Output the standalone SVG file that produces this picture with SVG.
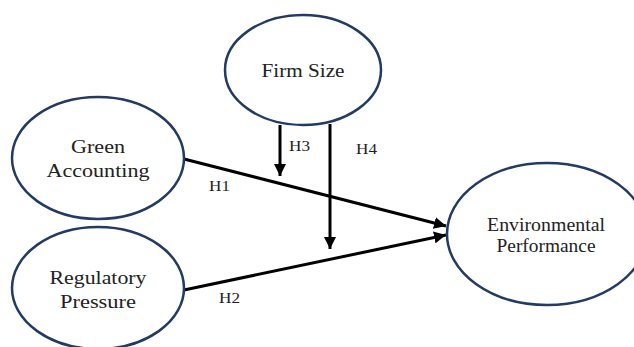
<svg xmlns="http://www.w3.org/2000/svg" width="634" height="347" viewBox="0 0 634 347">
<style>
.node{fill:#ffffff;stroke:#233a63;stroke-width:2.5}
.lbl{font-family:'Liberation Serif','DejaVu Serif',serif;font-size:19px;fill:#222;text-anchor:middle}
.h{font-family:'Liberation Serif','DejaVu Serif',serif;font-size:15px;fill:#222}
.edge{stroke:#000;stroke-width:3;fill:none}
</style>
<defs>
<marker id="arr" markerUnits="userSpaceOnUse" markerWidth="13" markerHeight="12" refX="12" refY="6" orient="auto">
<path d="M0,0 L12,6 L0,12 z" fill="#000"/>
</marker>
</defs>
<rect width="634" height="347" fill="#fff"/>
<g id="edges">
<line class="edge" x1="184" y1="159" x2="446" y2="226" marker-end="url(#arr)"/>
<line class="edge" x1="184" y1="290" x2="446" y2="235" marker-end="url(#arr)"/>
<line class="edge" x1="280" y1="125" x2="280" y2="176" marker-end="url(#arr)"/>
<line class="edge" x1="330" y1="124" x2="330" y2="249" marker-end="url(#arr)"/>
<text class="h" x="209" y="191" textLength="21" lengthAdjust="spacingAndGlyphs">H1</text>
<text class="h" x="219" y="303" textLength="21" lengthAdjust="spacingAndGlyphs">H2</text>
<text class="h" x="289" y="151" textLength="21" lengthAdjust="spacingAndGlyphs">H3</text>
<text class="h" x="356" y="154" textLength="21" lengthAdjust="spacingAndGlyphs">H4</text>
</g>
<g id="firm-size">
<ellipse class="node" cx="303" cy="70" rx="78" ry="55"/>
<text class="lbl" x="303" y="77" textLength="83" lengthAdjust="spacingAndGlyphs">Firm Size</text>
</g>
<g id="green-accounting">
<ellipse class="node" cx="98" cy="158" rx="86" ry="61"/>
<text class="lbl" x="98" y="153" textLength="54" lengthAdjust="spacingAndGlyphs">Green</text>
<text class="lbl" x="98" y="177" textLength="103" lengthAdjust="spacingAndGlyphs">Accounting</text>
</g>
<g id="regulatory-pressure">
<ellipse class="node" cx="98" cy="288" rx="86" ry="61"/>
<text class="lbl" x="98" y="284" textLength="97" lengthAdjust="spacingAndGlyphs">Regulatory</text>
<text class="lbl" x="98" y="308" textLength="76" lengthAdjust="spacingAndGlyphs">Pressure</text>
</g>
<g id="environmental-performance">
<ellipse class="node" cx="547" cy="234" rx="100" ry="71"/>
<text class="lbl" x="546" y="231" textLength="118" lengthAdjust="spacingAndGlyphs">Environmental</text>
<text class="lbl" x="546" y="252" textLength="99" lengthAdjust="spacingAndGlyphs">Performance</text>
</g>
</svg>
